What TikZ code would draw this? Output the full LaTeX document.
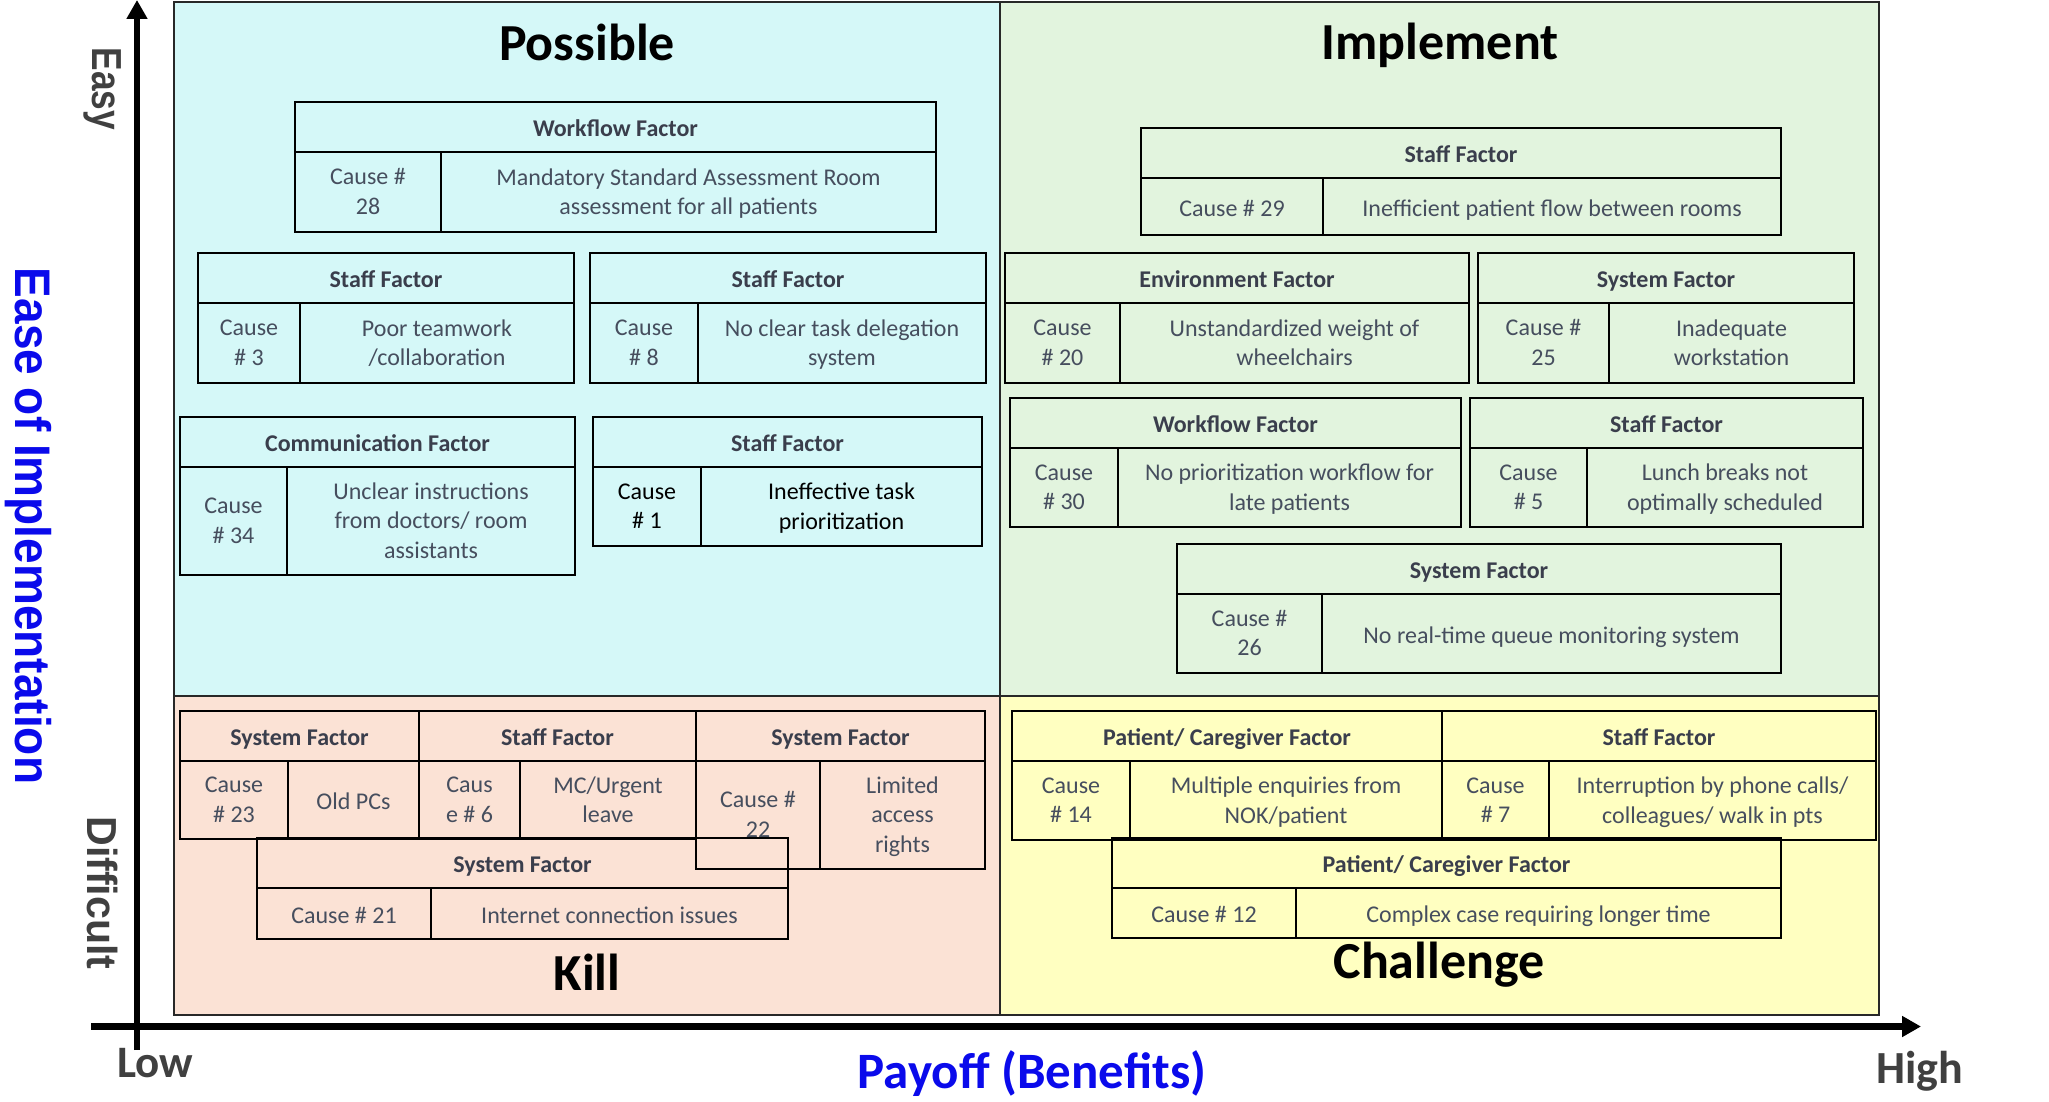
\documentclass[tikz,border=0pt]{standalone}
\usepackage{fontspec}
\setmainfont{Carlito}
\newfontfamily\axisfont{Liberation Sans}
\usetikzlibrary{arrows.meta}

\definecolor{possiblefill}{RGB}{213,248,248}
\definecolor{implementfill}{RGB}{226,244,222}
\definecolor{killfill}{RGB}{251,226,213}
\definecolor{challengefill}{RGB}{255,255,193}
\definecolor{hdrink}{RGB}{58,62,76}
\definecolor{cellink}{RGB}{70,78,94}
\definecolor{axisgray}{RGB}{64,64,64}
\definecolor{payoffblue}{RGB}{10,10,235}

\tikzset{
  quadrant/.style={draw={rgb,255:red,40;green,40;blue,40}, line width=0.9pt},
  tblline/.style={draw=black, line width=1.2pt},
  hdrtext/.style={inner sep=0pt, text=hdrink, font=\fontsize{12}{14.8}\selectfont\bfseries,
    execute at begin node=\strut},
  celltext/.style={inner sep=0pt, align=center, text=cellink, font=\fontsize{12}{14.8}\selectfont,
    execute at begin node=\strut, execute at end node=\strut},
  quadtitle/.style={anchor=base, inner sep=0pt, font=\fontsize{26}{30}\selectfont\bfseries},
  axisarrow/.style={line width=3.3pt, -{Triangle[length=9.5pt,width=10pt]}},
  axislabel/.style={rotate=-90, anchor=base, inner sep=0pt, text=axisgray},
  endlabel/.style={anchor=base, inner sep=0pt, text=axisgray},
}

% factor table: name, left, top, right, bottom, column x, header, cause, text
% (the header row is always 50 high, text sits 4 lower than the strut centre)
\newcommand{\factortable}[9]{%
  \draw [tblline] (#2,#3) rectangle (#4,#5) ;
  \draw [tblline] (#2,#3+50) -- (#4,#3+50) ;
  \draw [tblline] (#6,#3+50) -- (#6,#5) ;
  \node [hdrtext] (#1h) at ({(#2+#4)/2},#3+29) {#7};
  \node [celltext] (#1c) at ({(#2+#6)/2},{(#3+58+#5)/2}) {#8};
  \node [celltext] (#1d) at ({(#6+#4)/2},{(#3+58+#5)/2}) {#9};
}

\begin{document}
\begin{tikzpicture}[x=0.5pt,y=0.5pt,yscale=-1,xscale=1]
\useasboundingbox (0,0) rectangle (2049,1102);

%Quadrants
\fill [possiblefill] (174,2) rectangle (1000,696);
\fill [implementfill] (1000,2) rectangle (1879,696);
\fill [killfill] (174,696) rectangle (1000,1015);
\fill [challengefill] (1000,696) rectangle (1879,1015);
\draw [quadrant] (174,2) rectangle (1879,1015);
\draw [quadrant] (1000,2) -- (1000,1015);
\draw [quadrant] (174,696) -- (1879,696);

% Titles
\node [quadtitle] (possible) at (587,61) {Possible};
\node [quadtitle] (implement) at (1440,60) {Implement};
\node [quadtitle] (kill) at (587,990) {Kill};
\node [quadtitle] (challenge) at (1439,978) {Challenge};

%Possible
\factortable{wf28}{295}{102}{936}{232}{441}{Workflow Factor}{Cause \#\\28}{Mandatory Standard Assessment Room\\assessment for all patients}
\factortable{st3}{198}{253}{574}{383}{300}{Staff Factor}{Cause\\\# 3}{Poor teamwork\\/collaboration}
\factortable{st8}{590}{253}{986}{383}{698}{Staff Factor}{Cause\\\# 8}{No clear task delegation\\system}
\factortable{cm34}{180}{417}{575}{575}{287}{Communication Factor}{Cause\\\# 34}{Unclear instructions\\from doctors/ room\\assistants}
\begin{scope}
\colorlet{cellink}{black}
\factortable{st1}{593}{417}{982}{546}{701}{Staff Factor}{Cause\\\# 1}{Ineffective task\\prioritization}
\end{scope}

%Implement
\factortable{st29}{1141}{128}{1781}{235}{1323}{Staff Factor}{Cause \# 29}{Inefficient patient flow between rooms}
\factortable{en20}{1005}{253}{1469}{383}{1120}{Environment Factor}{Cause\\\# 20}{Unstandardized weight of\\wheelchairs}
\factortable{sy25}{1478}{253}{1854}{383}{1609}{System Factor}{Cause \#\\25}{Inadequate\\workstation}
\factortable{wf30}{1010}{398}{1461}{527}{1118}{Workflow Factor}{Cause\\\# 30}{No prioritization workflow for\\late patients}
\factortable{st5}{1470}{398}{1863}{527}{1587}{Staff Factor}{Cause\\\# 5}{Lunch breaks not\\optimally scheduled}
\factortable{sy26}{1177}{544}{1781}{673}{1322}{System Factor}{Cause \#\\26}{No real-time queue monitoring system}

%Kill
\factortable{sy23}{180}{711}{419}{839}{288}{System Factor}{Cause\\\# 23}{Old PCs}
\factortable{st6}{419}{711}{696}{839}{520}{Staff Factor}{Caus\\e \# 6}{MC/Urgent\\leave}
\factortable{sy22}{696}{711}{985}{869}{820}{System Factor}{Cause \#\\22}{Limited\\access\\rights}
\factortable{sy21}{257}{838}{788}{939}{431}{System Factor}{Cause \# 21}{Internet connection issues}

%Challenge
\factortable{pc14}{1012}{711}{1442}{840}{1130}{Patient/ Caregiver Factor}{Cause\\\# 14}{Multiple enquiries from\\NOK/patient}
\factortable{st7}{1442}{711}{1876}{840}{1549}{Staff Factor}{Cause\\\# 7}{Interruption by phone calls/\\colleagues/ walk in pts}
\factortable{pc12}{1112}{838}{1781}{938}{1296}{Patient/ Caregiver Factor}{Cause \# 12}{Complex case requiring longer time}

%Axes
\coordinate (ybot) at (137,1050);
\coordinate (ytop) at (137,0);
\coordinate (xleft) at (91,1026.5);
\coordinate (xright) at (1921,1026.5);
\draw [axisarrow] (ybot) -- (ytop);
\draw [axisarrow] (xleft) -- (xright);

% Axis labels
\node [axislabel, font=\axisfont\fontsize{21}{25}\selectfont\bfseries] (easy) at (92,89) {\scalebox{0.84}[1]{Easy}};
\node [axislabel, font=\axisfont\fontsize{21}{25}\selectfont\bfseries] (difficult) at (87,893) {\scalebox{0.98}[1]{Difficult}};
\node [axislabel, text=payoffblue, font=\axisfont\fontsize{25}{30}\selectfont\bfseries] (ease) at (16,526) {\scalebox{0.92}[1]{Ease of Implementation}};
\node [endlabel, font=\fontsize{22.5}{27}\selectfont\bfseries] (low) at (155,1077) {Low};
\node [endlabel, font=\fontsize{23}{27}\selectfont\bfseries] (high) at (1920,1083) {High};
\node [endlabel, text=payoffblue, font=\fontsize{25.5}{30}\selectfont\bfseries] (payoff) at (1032,1088) {Payoff (Benefits)};
\end{tikzpicture}
\end{document}
